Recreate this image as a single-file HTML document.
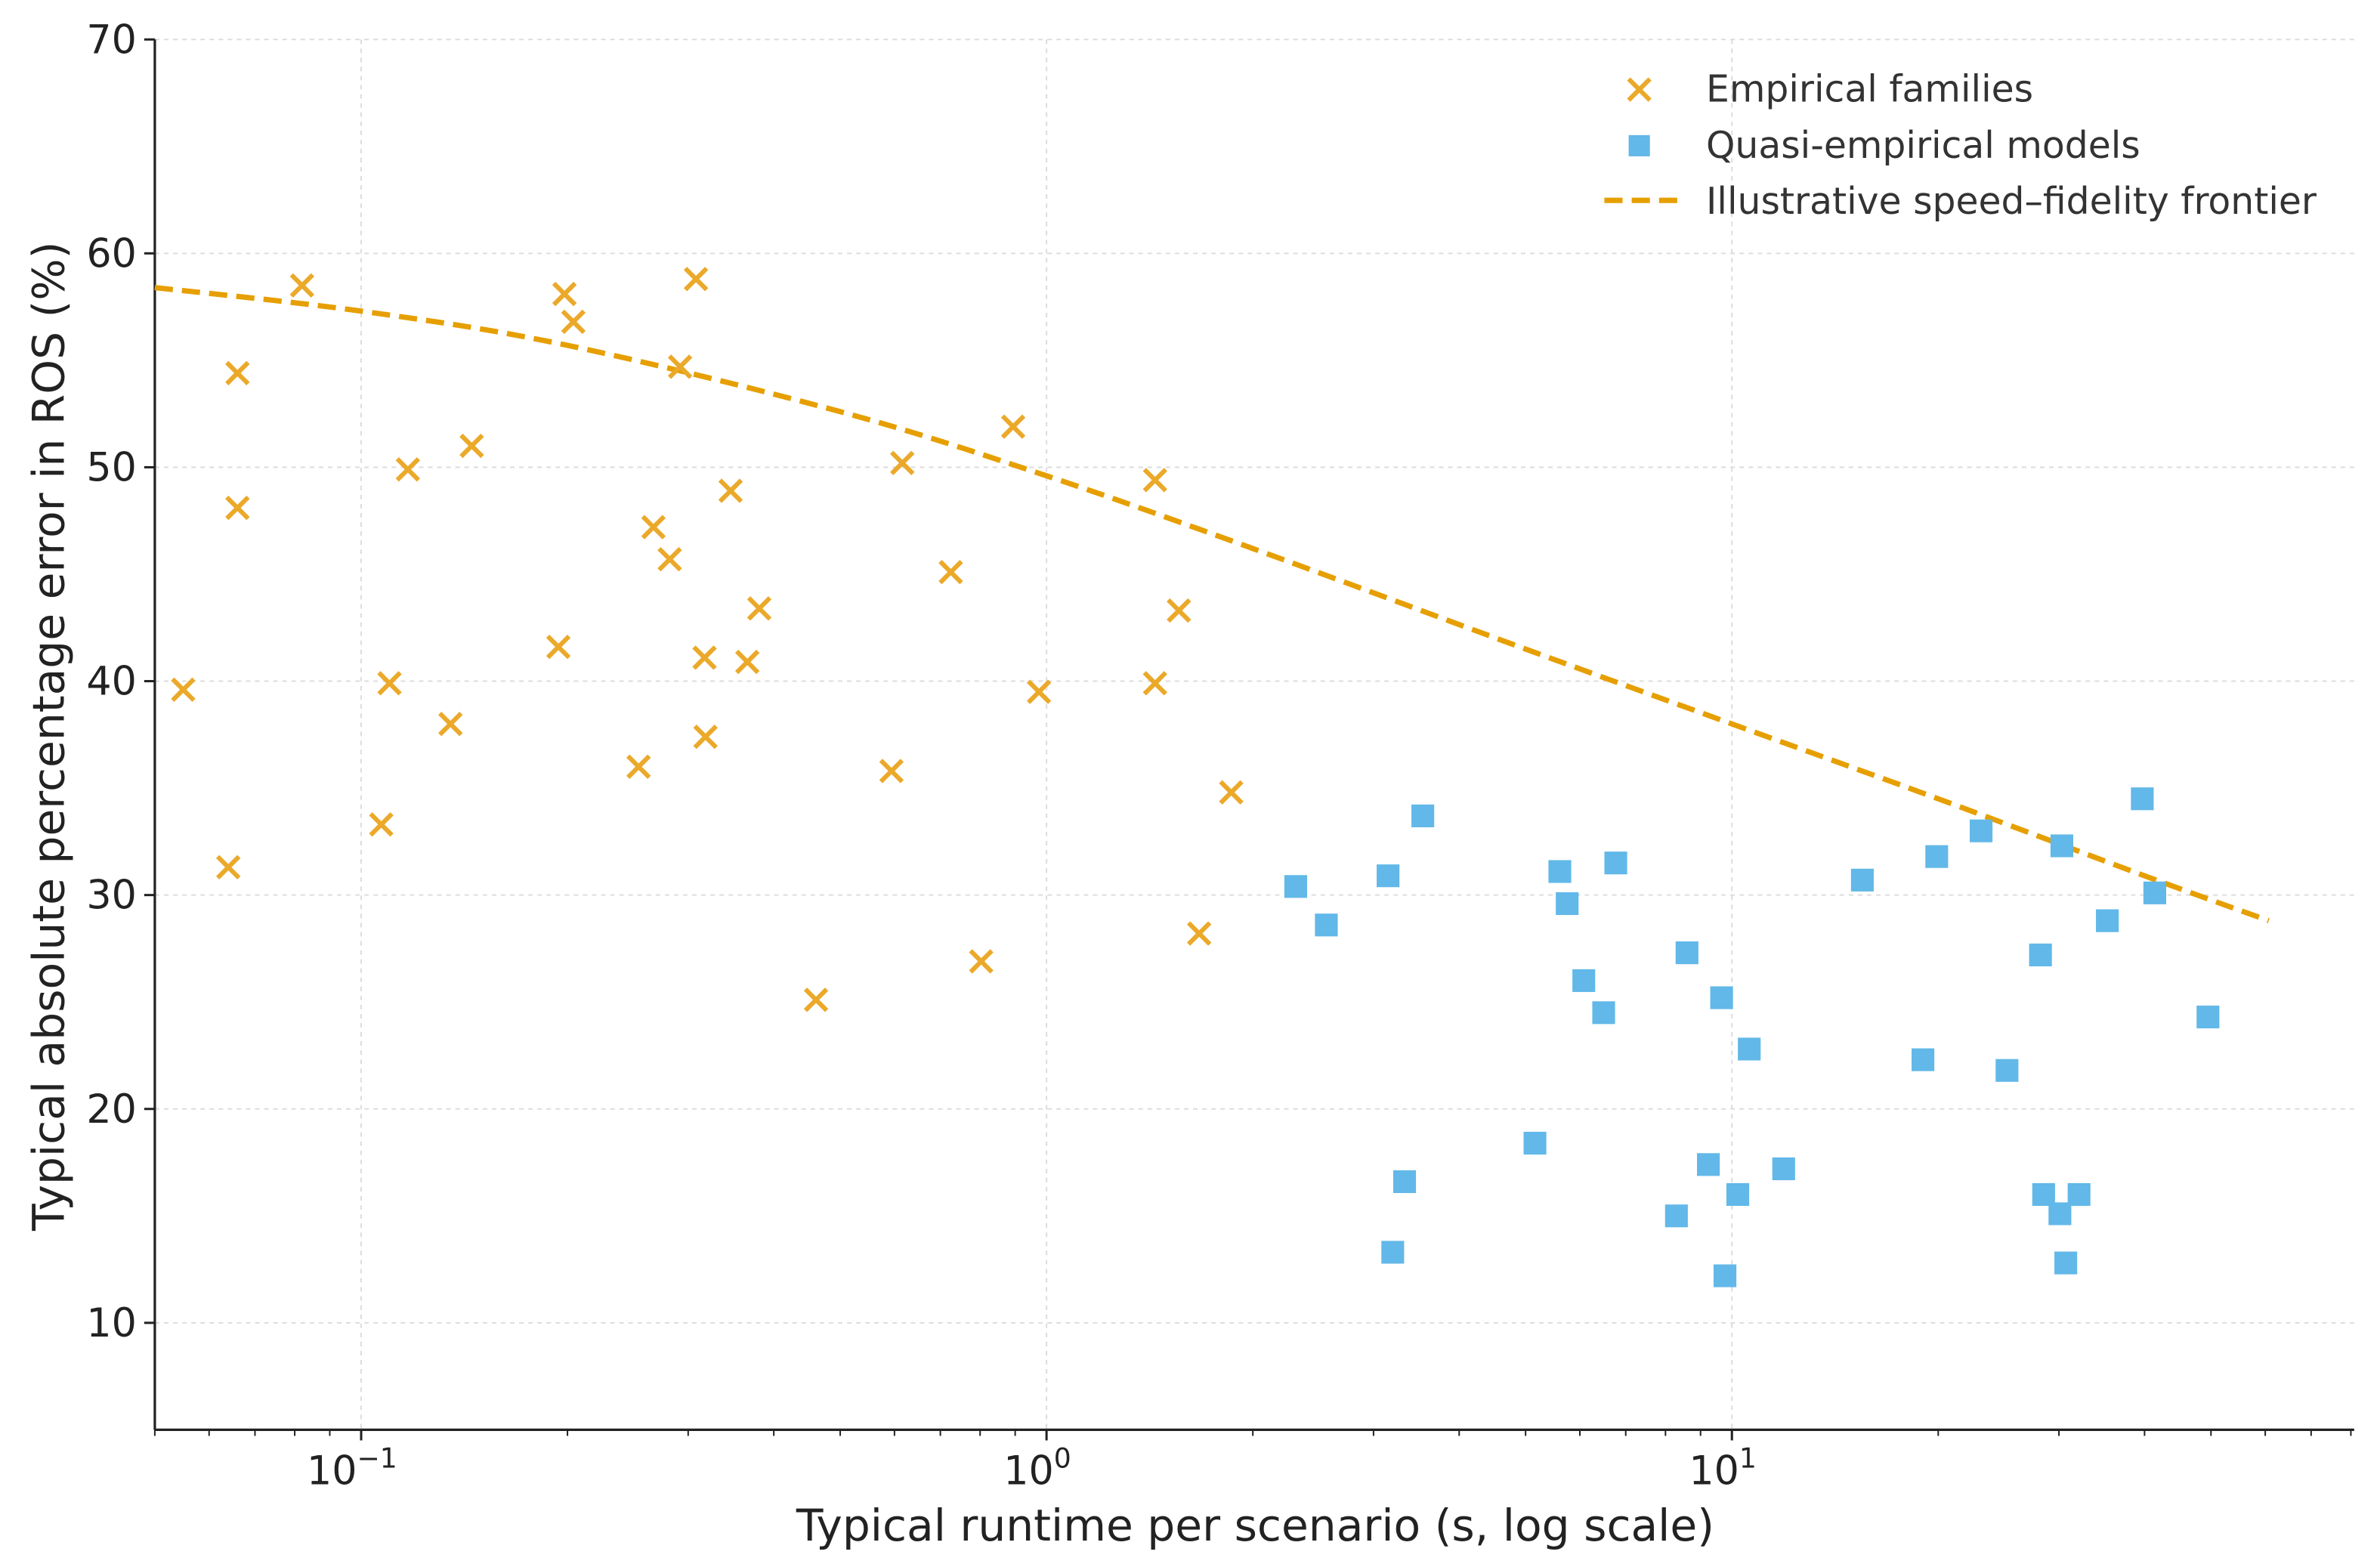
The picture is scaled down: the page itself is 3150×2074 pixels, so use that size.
<!DOCTYPE html>
<html><head><meta charset="utf-8"><style>
html,body{margin:0;padding:0;background:#fff;}
svg{display:block;font-family:"DejaVu Sans","Liberation Sans",sans-serif;}
</style></head><body>
<svg id="chart" width="3150" height="2074" viewBox="0 0 1568 1032.4" preserveAspectRatio="none" xmlns="http://www.w3.org/2000/svg">
<g id="grid"></g>
<g id="axes"></g>
<g id="frontier"></g>
<g id="emp"></g>
<g id="quasi"></g>
<text x="827" y="1015" font-size="29" text-anchor="middle" fill="#222">Typical runtime per scenario (s, log scale)</text>
<text transform="translate(42,485) rotate(-90)" font-size="29" text-anchor="middle" fill="#222">Typical absolute percentage error in ROS (%)</text>
<g>
 <g>
  <path d="M1073,52 L1087,66 M1087,52 L1073,66" stroke="#EBA92A" stroke-width="3"/>
  <text x="1124" y="67" font-size="24.3" fill="#333">Empirical families</text>
 </g>
 <g>
  <rect x="1073" y="89" width="14" height="14" fill="#62B8E8"/>
  <text x="1124" y="104" font-size="24.3" fill="#333">Quasi-empirical models</text>
 </g>
 <g>
  <line x1="1057" y1="132" x2="1105" y2="132" stroke="#E69F00" stroke-width="3.5" stroke-dasharray="12,6"/>
  <text x="1124" y="141" font-size="24.3" fill="#333">Illustrative speed–fidelity frontier</text>
 </g>
</g>
</svg>
<script>
const empX=[0.055,0.064,0.066,0.066,0.082,0.107,0.110,0.117,0.135,0.145,0.194,0.198,0.204,0.254,0.267,0.282,0.292,0.308,0.317,0.318,0.346,0.366,0.381,0.461,0.594,0.616,0.725,0.803,0.894,0.975,1.44,1.44,1.56,1.67,1.86];
const empY=[39.6,31.3,48.1,54.4,58.5,33.3,39.9,49.9,38.0,51.0,41.6,58.1,56.8,36.0,47.2,45.7,54.7,58.8,41.1,37.4,48.9,40.9,43.4,25.1,35.8,50.2,45.1,26.9,51.9,39.5,39.9,49.4,43.3,28.2,34.8];
const quasiX=[2.31,2.56,3.15,3.20,3.33,3.54,5.16,5.61,5.75,6.08,6.50,6.77,8.30,8.60,9.24,9.66,9.77,10.2,10.6,11.9,15.5,19.0,19.9,23.1,25.2,28.2,28.5,30.1,30.3,30.7,32.1,35.3,39.7,41.4,49.5];
const quasiY=[30.4,28.6,30.9,13.3,16.6,33.7,18.4,31.1,29.6,26.0,24.5,31.5,15.0,27.3,17.4,25.2,12.2,16.0,22.8,17.2,30.7,22.3,31.8,33.0,21.8,27.2,16.0,15.1,32.3,12.8,16.0,28.8,34.5,30.1,24.3];
const frontX=[0.05,0.1,0.2,0.5,1,2,5,10,20,40,60.7];
const frontY=[58.4,57.3,55.7,52.6,49.6,46.2,41.5,38.0,34.5,30.9,28.8];
const yTicks=[10,20,30,40,50,60,70];
const xTickExp=[-1,0,1];

const NS="http://www.w3.org/2000/svg";
const L=102,R=1551,T=26,B=942;
const xmin=Math.log10(0.05),xmax=Math.log10(80.9);
function sx(v){return L+(Math.log10(v)-xmin)/(xmax-xmin)*(R-L);}
function sy(v){return B-(v-5)/(70-5)*(B-T);}
function mk(tag,attrs,parent){const e=document.createElementNS(NS,tag);for(const k in attrs)e.setAttribute(k,attrs[k]);parent.appendChild(e);return e;}
const grid=document.getElementById('grid'),axes=document.getElementById('axes');
yTicks.forEach(t=>{
 const y=sy(t);
 const g=mk('line',{x1:L,x2:R,y1:y,y2:y,stroke:'#ddd','stroke-width':1,'stroke-dasharray':'3,3'},grid);
 
 
 mk('line',{x1:L-7,x2:L,y1:y,y2:y,stroke:'#222','stroke-width':1.5},axes);
 const tx=mk('text',{x:L-12,y:y+9,'font-size':26,'text-anchor':'end',fill:'#222'},axes);
 tx.textContent=t;
 
 
});
xTickExp.forEach(e=>{
 const x=sx(Math.pow(10,e));
 const g=mk('line',{x1:x,x2:x,y1:T,y2:B,stroke:'#ddd','stroke-width':1,'stroke-dasharray':'3,3'},grid);
 
 
 mk('line',{x1:x,x2:x,y1:B,y2:B+7,stroke:'#222','stroke-width':1.5},axes);
 const tx=mk('text',{x:x-6,y:B+36,'font-size':26,'text-anchor':'middle',fill:'#222'},axes);
 
 
 tx.appendChild(document.createTextNode('10'));
 const sp=mk('tspan',{dy:-11,'font-size':18},tx);sp.textContent=String(e).replace('-','−');
});
for(let d=-2;d<=1;d++){for(let m=2;m<=9;m++){const v=m*Math.pow(10,d);const x=sx(v);if(x<L||x>R)continue;
 mk('line',{x1:x,x2:x,y1:B,y2:B+4,stroke:'#222','stroke-width':1},axes);}}
mk('line',{x1:L,x2:L,y1:T,y2:B,stroke:'#222','stroke-width':1.6},axes);
mk('line',{x1:L,x2:R,y1:B,y2:B,stroke:'#222','stroke-width':1.6},axes);
const pts=frontX.map((v,i)=>[sx(v),sy(frontY[i])]);
let d='M'+pts[0][0]+','+pts[0][1];
for(let i=0;i<pts.length-1;i++){const p0=pts[i-1]||pts[i],p1=pts[i],p2=pts[i+1],p3=pts[i+2]||p2;
 d+=` C${p1[0]+(p2[0]-p0[0])/6},${p1[1]+(p2[1]-p0[1])/6} ${p2[0]-(p3[0]-p1[0])/6},${p2[1]-(p3[1]-p1[1])/6} ${p2[0]},${p2[1]}`;}
const fp=mk('path',{d:d,fill:'none',stroke:'#E69F00','stroke-width':3.5,'stroke-dasharray':'12,6'},document.getElementById('frontier'));


const emp=document.getElementById('emp');
empX.forEach((v,i)=>{const x=sx(v),y=sy(empY[i]);
 const p=mk('path',{d:`M${x-7},${y-7} L${x+7},${y+7} M${x+7},${y-7} L${x-7},${y+7}`,stroke:'#EBA92A','stroke-width':3},emp);
 
 });
const q=document.getElementById('quasi');
quasiX.forEach((v,i)=>{const x=sx(v),y=sy(quasiY[i]);
 const r=mk('rect',{x:x-7.5,y:y-7.5,width:15,height:15,fill:'#62B8E8'},q);
 
 });
</script>
</body></html>
